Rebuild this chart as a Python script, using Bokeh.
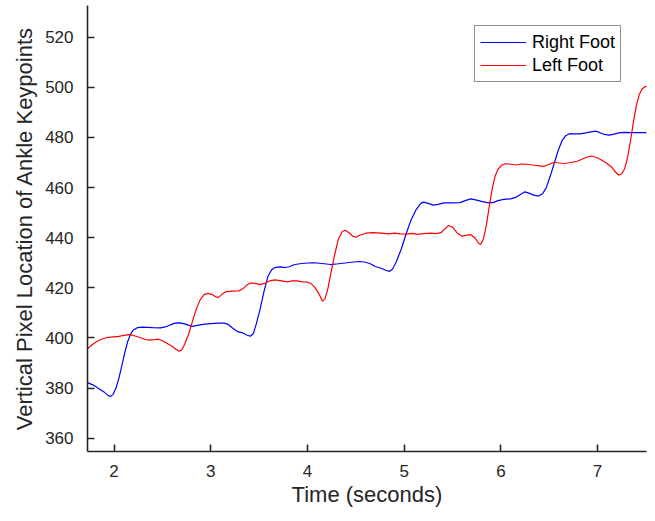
from bokeh.plotting import figure
from bokeh.models import Range1d, Legend, LegendItem
from bokeh.embed import file_html
from bokeh.resources import INLINE

# Right Foot (blue) - time (s), vertical pixel location
right_t = [1.725, 1.78, 1.84, 1.90, 1.94, 1.966, 1.99, 2.02, 2.05, 2.08,
           2.11, 2.14, 2.17, 2.20, 2.24, 2.30, 2.40, 2.48, 2.53, 2.58,
           2.63, 2.68, 2.73, 2.78, 2.81, 2.86, 2.92, 3.00, 3.08, 3.14,
           3.18, 3.23, 3.28, 3.33, 3.37, 3.41, 3.44, 3.47, 3.51, 3.55,
           3.59, 3.63, 3.67, 3.72, 3.77, 3.81, 3.86, 3.92, 4.00, 4.07,
           4.15, 4.24, 4.32, 4.41, 4.50, 4.55, 4.60, 4.65, 4.70, 4.76,
           4.81, 4.85, 4.88, 4.92, 4.97, 5.02, 5.07, 5.12, 5.17, 5.20,
           5.25, 5.30, 5.35, 5.41, 5.50, 5.58, 5.63, 5.69, 5.75, 5.80,
           5.86, 5.92, 5.97, 6.03, 6.10, 6.16, 6.21, 6.25, 6.29, 6.34,
           6.39, 6.43, 6.47, 6.51, 6.55, 6.59, 6.63, 6.67, 6.71, 6.76,
           6.82, 6.88, 6.93, 6.98, 7.02, 7.07, 7.12, 7.17, 7.22, 7.28,
           7.35, 7.509]
right_y = [382.2, 381.3, 379.8, 378.3, 377.0, 376.7, 377.5, 380.0, 384.0, 389.0,
           394.0, 398.5, 401.5, 403.2, 404.1, 404.3, 404.1, 404.0, 404.4, 405.2,
           405.9, 406.0, 405.6, 404.9, 404.6, 405.0, 405.4, 405.7, 405.9, 405.9,
           405.4, 403.8, 402.5, 402.0, 401.2, 400.7, 401.8, 405.5, 411.5, 418.5,
           424.5, 427.2, 428.2, 428.4, 428.1, 428.4, 429.2, 429.6, 429.9, 430.0,
           429.7, 429.3, 429.6, 430.0, 430.4, 430.5, 430.2, 429.6, 428.5, 427.8,
           427.0, 426.6, 427.5, 430.5, 435.5, 441.5, 447.0, 451.0, 453.6, 454.2,
           453.7, 453.0, 453.3, 453.9, 453.9, 454.0, 454.8, 455.5, 455.0, 454.5,
           454.0, 454.0, 454.8, 455.3, 455.5, 456.2, 457.4, 458.3, 457.8, 457.0,
           456.6, 457.5, 460.0, 464.5, 469.5, 474.5, 478.5, 480.7, 481.5, 481.4,
           481.4, 481.8, 482.2, 482.5, 482.0, 481.2, 480.9, 481.3, 481.8, 482.0,
           481.9, 481.9]

# Left Foot (red)
left_t = [1.725, 1.78, 1.83, 1.88, 1.93, 1.97, 2.05, 2.10, 2.15, 2.20,
          2.26, 2.31, 2.36, 2.42, 2.46, 2.50, 2.55, 2.60, 2.64, 2.67,
          2.70, 2.73, 2.77, 2.81, 2.85, 2.89, 2.93, 2.97, 3.01, 3.05,
          3.08, 3.12, 3.16, 3.22, 3.29, 3.33, 3.37, 3.41, 3.46, 3.51,
          3.56, 3.61, 3.66, 3.72, 3.79, 3.84, 3.89, 3.95, 4.00, 4.04,
          4.08, 4.12, 4.155, 4.18, 4.21, 4.24, 4.28, 4.32, 4.36, 4.39,
          4.43, 4.47, 4.50, 4.54, 4.60, 4.68, 4.76, 4.84, 4.90, 4.96,
          5.02, 5.08, 5.14, 5.20, 5.28, 5.33, 5.38, 5.42, 5.46, 5.50,
          5.55, 5.60, 5.65, 5.69, 5.73, 5.77, 5.79, 5.82, 5.85, 5.88,
          5.91, 5.94, 5.97, 6.01, 6.05, 6.10, 6.16, 6.21, 6.27, 6.33,
          6.40, 6.45, 6.50, 6.55, 6.60, 6.66, 6.72, 6.79, 6.85, 6.90,
          6.94, 6.99, 7.04, 7.10, 7.15, 7.19, 7.22, 7.25, 7.28, 7.31,
          7.34, 7.37, 7.40, 7.43, 7.46, 7.49, 7.509]
left_y = [395.7, 397.5, 398.8, 399.7, 400.2, 400.3, 400.6, 401.0, 401.3, 401.0,
          400.3, 399.6, 399.1, 399.3, 399.5, 398.9, 397.8, 396.7, 395.5, 394.7,
          395.2, 397.5, 401.5, 406.5, 411.5, 415.2, 417.3, 417.8, 417.4, 416.4,
          416.2, 417.5, 418.5, 418.7, 418.8, 419.6, 421.0, 421.9, 421.8, 421.3,
          421.8, 422.8, 423.2, 422.9, 422.4, 422.8, 422.8, 422.4, 422.3, 421.6,
          420.0, 417.5, 414.7, 415.5, 419.5, 425.5, 433.0, 439.5, 442.5, 443.0,
          442.0, 440.6, 440.2, 441.0, 441.8, 442.0, 441.8, 441.5, 441.8, 441.5,
          441.4, 441.7, 441.3, 441.6, 441.8, 441.6, 442.0, 443.5, 444.9, 444.2,
          441.8, 440.6, 441.0, 441.2, 440.0, 437.8, 437.3, 439.5, 445.0, 452.5,
          459.5, 464.5, 467.3, 469.0, 469.5, 469.3, 469.0, 469.4, 469.3, 469.0,
          468.7, 468.5, 469.3, 470.1, 469.8, 469.6, 470.0, 470.5, 471.5, 472.3,
          472.6, 472.0, 471.0, 469.6, 468.0, 466.0, 465.0, 465.5, 467.5, 472.0,
          478.5, 486.0, 492.5, 497.0, 499.3, 500.2, 500.4]

x_ticks = [2, 3, 4, 5, 6, 7]
y_ticks = [360, 380, 400, 420, 440, 460, 480, 500, 520]
x_label = "Time (seconds)"
y_label = "Vertical Pixel Location of Ankle Keypoints"
series_names = ["Right Foot", "Left Foot"]

FONT = "Liberation Sans"
TXT = "#262626"

p = figure(width=648, height=515, output_backend="svg", toolbar_location=None,
           x_range=Range1d(1.725, 7.506), y_range=Range1d(354.7, 532.65),
           min_border_left=87, min_border_right=2, min_border_top=5,
           min_border_bottom=64)
p.outline_line_color = None
p.grid.visible = False
p.background_fill_color = "white"

r1 = p.line(right_t, right_y, line_color="#0000ff", line_width=1.2)
r2 = p.line(left_t, left_y, line_color="#ff0000", line_width=1.2)

for ax in (p.xaxis[0], p.yaxis[0]):
    ax.axis_line_color = TXT
    ax.axis_line_width = 1.6
    ax.major_tick_line_color = TXT
    ax.major_tick_line_width = 1.6
    ax.major_tick_in = 7
    ax.major_tick_out = 0
    ax.minor_tick_line_color = None
    ax.major_label_text_font = FONT
    ax.major_label_text_font_size = "17px"
    ax.major_label_text_color = TXT
    ax.axis_label_text_font = FONT
    ax.axis_label_text_font_size = "22px"
    ax.axis_label_text_font_style = "normal"
    ax.axis_label_text_color = TXT

p.xaxis.ticker = x_ticks
p.yaxis.ticker = y_ticks
p.xaxis.axis_label = x_label
p.yaxis.axis_label = y_label
p.yaxis.major_label_standoff = 14
p.xaxis.major_label_standoff = 13
p.yaxis.axis_label_standoff = 5
p.xaxis.axis_label_standoff = 2

legend = Legend(items=[LegendItem(label=series_names[0], renderers=[r1]),
                       LegendItem(label=series_names[1], renderers=[r2])],
                location=(387, 369))
legend.label_text_font = FONT
legend.label_text_font_size = "18px"
legend.label_text_color = "black"
legend.border_line_color = TXT
legend.border_line_width = 1
legend.padding = 5
legend.spacing = 1
legend.margin = 0
legend.glyph_width = 46
legend.glyph_height = 22
legend.label_height = 22
legend.label_standoff = 6
legend.background_fill_alpha = 1
p.add_layout(legend, "center")

open("out.html", "w").write(file_html(p, INLINE))
